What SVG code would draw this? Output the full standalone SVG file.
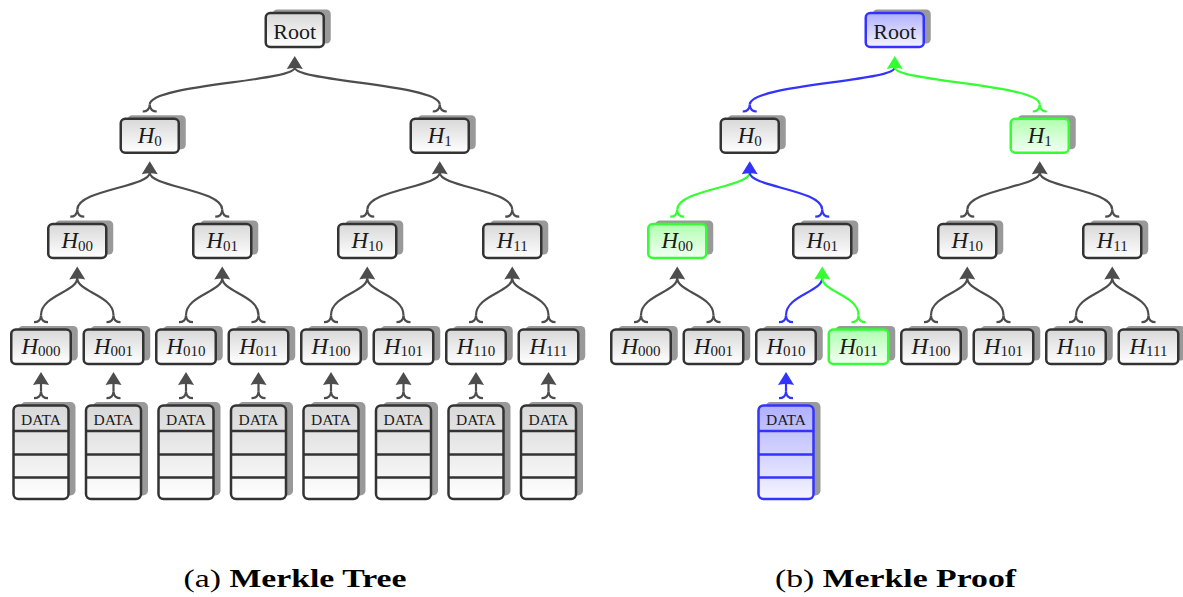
<svg xmlns="http://www.w3.org/2000/svg" xmlns:xlink="http://www.w3.org/1999/xlink" width="1183" height="597" viewBox="0 0 1183 597">
<defs>
<linearGradient id="gGray" x1="0" y1="0" x2="0" y2="1"><stop offset="0" stop-color="#d8d8d8"/><stop offset="1" stop-color="#ffffff"/></linearGradient>
<linearGradient id="gBlue" x1="0" y1="0" x2="0" y2="1"><stop offset="0" stop-color="#b0b0ff"/><stop offset="1" stop-color="#f4f4ff"/></linearGradient>
<linearGradient id="gGreen" x1="0" y1="0" x2="0" y2="1"><stop offset="0" stop-color="#b0ffb0"/><stop offset="1" stop-color="#f4fff4"/></linearGradient>
<path id="ah" d="M0,-0.5 L8,12.5 Q0,10.5 -8,12.5 Z"/>
<path id="tail" d="M-7,0 C-3,0 0,-2 0,-7 M7,0 C3,0 0,-2 0,-7" fill="none"/>
</defs>
<style>
.sh{fill:#999999;}
.bx{fill:url(#gGray);stroke:#333333;stroke-width:2.5;}
.bxB{fill:url(#gBlue);stroke:#3333ff;stroke-width:2.5;}
.bxG{fill:url(#gGreen);stroke:#33ff33;stroke-width:2.5;}
.dv{stroke:#333333;stroke-width:2.5;}
.dvB{stroke:#3333ff;stroke-width:2.5;}
.lbl{font-family:"Liberation Serif","Times New Roman",serif;font-size:23px;fill:#1a1a1a;text-anchor:middle;}
.it{font-style:italic;}
.sub{font-size:15px;}
.rt{font-family:"Liberation Serif","Times New Roman",serif;font-size:22px;fill:#1a1a1a;text-anchor:middle;}
.dt{font-family:"Liberation Serif","Times New Roman",serif;font-size:15.5px;fill:#1a1a1a;text-anchor:middle;}
.cap{font-family:"Liberation Serif","Times New Roman",serif;font-size:25px;fill:#000;text-anchor:middle;}
.k{fill:none;stroke:#4d4d4d;stroke-width:2.2;}
.kB{fill:none;stroke:#3333ff;stroke-width:2.2;}
.kG{fill:none;stroke:#33ff33;stroke-width:2.2;}
.aK{fill:#4d4d4d;}
.aB{fill:#3333ff;}
.aG{fill:#33ff33;}
</style>

<!-- ========== (a) Merkle Tree ========== -->
<g id="a-connectors">
<path class="k" d="M149.75,104.5 C149.75,84.5 294.75,81.5 294.75,67.5 M439.75,104.5 C439.75,84.5 294.75,81.5 294.75,67.5"/>
<path class="k" d="M77.25,209.7 C77.25,189.7 149.75,186.8 149.75,172.8 M222.25,209.7 C222.25,189.7 149.75,186.8 149.75,172.8"/>
<path class="k" d="M367.25,209.7 C367.25,189.7 439.75,186.8 439.75,172.8 M512.25,209.7 C512.25,189.7 439.75,186.8 439.75,172.8"/>
<path class="k" d="M41,315.2 C41,295.2 77.25,292 77.25,278 M113.5,315.2 C113.5,295.2 77.25,292 77.25,278"/>
<path class="k" d="M186,315.2 C186,295.2 222.25,292 222.25,278 M258.5,315.2 C258.5,295.2 222.25,292 222.25,278"/>
<path class="k" d="M331,315.2 C331,295.2 367.25,292 367.25,278 M403.5,315.2 C403.5,295.2 367.25,292 367.25,278"/>
<path class="k" d="M476,315.2 C476,295.2 512.25,292 512.25,278 M548.5,315.2 C548.5,295.2 512.25,292 512.25,278"/>
<path class="k" d="M41,391.2 V383.5 M113.5,391.2 V383.5 M186,391.2 V383.5 M258.5,391.2 V383.5 M331,391.2 V383.5 M403.5,391.2 V383.5 M476,391.2 V383.5 M548.5,391.2 V383.5"/>
<g class="k">
<use href="#tail" x="149.75" y="111.5"/><use href="#tail" x="439.75" y="111.5"/>
<use href="#tail" x="77.25" y="216.7"/><use href="#tail" x="222.25" y="216.7"/><use href="#tail" x="367.25" y="216.7"/><use href="#tail" x="512.25" y="216.7"/>
<use href="#tail" x="41" y="322.2"/><use href="#tail" x="113.5" y="322.2"/><use href="#tail" x="186" y="322.2"/><use href="#tail" x="258.5" y="322.2"/><use href="#tail" x="331" y="322.2"/><use href="#tail" x="403.5" y="322.2"/><use href="#tail" x="476" y="322.2"/><use href="#tail" x="548.5" y="322.2"/>
<use href="#tail" x="41" y="398.2"/><use href="#tail" x="113.5" y="398.2"/><use href="#tail" x="186" y="398.2"/><use href="#tail" x="258.5" y="398.2"/><use href="#tail" x="331" y="398.2"/><use href="#tail" x="403.5" y="398.2"/><use href="#tail" x="476" y="398.2"/><use href="#tail" x="548.5" y="398.2"/>
</g>
<g class="aK">
<use href="#ah" x="294.75" y="56.5"/>
<use href="#ah" x="149.75" y="161.8"/><use href="#ah" x="439.75" y="161.8"/>
<use href="#ah" x="77.25" y="267"/><use href="#ah" x="222.25" y="267"/><use href="#ah" x="367.25" y="267"/><use href="#ah" x="512.25" y="267"/>
<use href="#ah" x="41" y="372.5"/><use href="#ah" x="113.5" y="372.5"/><use href="#ah" x="186" y="372.5"/><use href="#ah" x="258.5" y="372.5"/><use href="#ah" x="331" y="372.5"/><use href="#ah" x="403.5" y="372.5"/><use href="#ah" x="476" y="372.5"/><use href="#ah" x="548.5" y="372.5"/>
</g>
</g>

<g id="a-root"><rect class="sh" x="272.75" y="9.5" width="58" height="34" rx="4.5"/><rect class="bx" x="265.75" y="13" width="58" height="34" rx="4.5"/><text class="rt" x="294.75" y="39.3">Root</text></g>
<g id="a-h0"><rect class="sh" x="127.75" y="115.2" width="58" height="34" rx="4.5"/><rect class="bx" x="120.75" y="118.7" width="58" height="34" rx="4.5"/><text class="lbl" x="149.75" y="143"><tspan class="it">H</tspan><tspan class="sub" dy="3">0</tspan></text></g>
<g id="a-h1"><rect class="sh" x="417.75" y="115.2" width="58" height="34" rx="4.5"/><rect class="bx" x="410.75" y="118.7" width="58" height="34" rx="4.5"/><text class="lbl" x="439.75" y="143"><tspan class="it">H</tspan><tspan class="sub" dy="3">1</tspan></text></g>
<g id="a-h00"><rect class="sh" x="55.25" y="220.5" width="58" height="34" rx="4.5"/><rect class="bx" x="48.25" y="224" width="58" height="34" rx="4.5"/><text class="lbl" x="77.25" y="248.2"><tspan class="it">H</tspan><tspan class="sub" dy="3">00</tspan></text></g>
<g id="a-h01"><rect class="sh" x="200.25" y="220.5" width="58" height="34" rx="4.5"/><rect class="bx" x="193.25" y="224" width="58" height="34" rx="4.5"/><text class="lbl" x="222.25" y="248.2"><tspan class="it">H</tspan><tspan class="sub" dy="3">01</tspan></text></g>
<g id="a-h10"><rect class="sh" x="345.25" y="220.5" width="58" height="34" rx="4.5"/><rect class="bx" x="338.25" y="224" width="58" height="34" rx="4.5"/><text class="lbl" x="367.25" y="248.2"><tspan class="it">H</tspan><tspan class="sub" dy="3">10</tspan></text></g>
<g id="a-h11"><rect class="sh" x="490.25" y="220.5" width="58" height="34" rx="4.5"/><rect class="bx" x="483.25" y="224" width="58" height="34" rx="4.5"/><text class="lbl" x="512.25" y="248.2"><tspan class="it">H</tspan><tspan class="sub" dy="3">11</tspan></text></g>
<g id="a-h000"><rect class="sh" x="18.25" y="326" width="59.5" height="34.5" rx="4.5"/><rect class="bx" x="11.25" y="329.5" width="59.5" height="34.5" rx="4.5"/><text class="lbl" x="41" y="353.6"><tspan class="it">H</tspan><tspan class="sub" dy="2.5">000</tspan></text></g>
<g id="a-h001"><rect class="sh" x="90.75" y="326" width="59.5" height="34.5" rx="4.5"/><rect class="bx" x="83.75" y="329.5" width="59.5" height="34.5" rx="4.5"/><text class="lbl" x="113.5" y="353.6"><tspan class="it">H</tspan><tspan class="sub" dy="2.5">001</tspan></text></g>
<g id="a-h010"><rect class="sh" x="163.25" y="326" width="59.5" height="34.5" rx="4.5"/><rect class="bx" x="156.25" y="329.5" width="59.5" height="34.5" rx="4.5"/><text class="lbl" x="186" y="353.6"><tspan class="it">H</tspan><tspan class="sub" dy="2.5">010</tspan></text></g>
<g id="a-h011"><rect class="sh" x="235.75" y="326" width="59.5" height="34.5" rx="4.5"/><rect class="bx" x="228.75" y="329.5" width="59.5" height="34.5" rx="4.5"/><text class="lbl" x="258.5" y="353.6"><tspan class="it">H</tspan><tspan class="sub" dy="2.5">011</tspan></text></g>
<g id="a-h100"><rect class="sh" x="308.25" y="326" width="59.5" height="34.5" rx="4.5"/><rect class="bx" x="301.25" y="329.5" width="59.5" height="34.5" rx="4.5"/><text class="lbl" x="331" y="353.6"><tspan class="it">H</tspan><tspan class="sub" dy="2.5">100</tspan></text></g>
<g id="a-h101"><rect class="sh" x="380.75" y="326" width="59.5" height="34.5" rx="4.5"/><rect class="bx" x="373.75" y="329.5" width="59.5" height="34.5" rx="4.5"/><text class="lbl" x="403.5" y="353.6"><tspan class="it">H</tspan><tspan class="sub" dy="2.5">101</tspan></text></g>
<g id="a-h110"><rect class="sh" x="453.25" y="326" width="59.5" height="34.5" rx="4.5"/><rect class="bx" x="446.25" y="329.5" width="59.5" height="34.5" rx="4.5"/><text class="lbl" x="476" y="353.6"><tspan class="it">H</tspan><tspan class="sub" dy="2.5">110</tspan></text></g>
<g id="a-h111"><rect class="sh" x="525.75" y="326" width="59.5" height="34.5" rx="4.5"/><rect class="bx" x="518.75" y="329.5" width="59.5" height="34.5" rx="4.5"/><text class="lbl" x="548.5" y="353.6"><tspan class="it">H</tspan><tspan class="sub" dy="2.5">111</tspan></text></g>

<g id="a-data000"><rect class="sh" x="20.5" y="402" width="55" height="93.5" rx="5"/><rect class="bx" x="13.5" y="405.5" width="55" height="93.5" rx="5"/><path class="dv" d="M13.5,431 H68.5 M13.5,454.5 H68.5 M13.5,477.5 H68.5"/><text class="dt" x="41" y="424.5">DATA</text></g>
<g id="a-data001"><rect class="sh" x="93" y="402" width="55" height="93.5" rx="5"/><rect class="bx" x="86" y="405.5" width="55" height="93.5" rx="5"/><path class="dv" d="M86,431 H141 M86,454.5 H141 M86,477.5 H141"/><text class="dt" x="113.5" y="424.5">DATA</text></g>
<g id="a-data010"><rect class="sh" x="165.5" y="402" width="55" height="93.5" rx="5"/><rect class="bx" x="158.5" y="405.5" width="55" height="93.5" rx="5"/><path class="dv" d="M158.5,431 H213.5 M158.5,454.5 H213.5 M158.5,477.5 H213.5"/><text class="dt" x="186" y="424.5">DATA</text></g>
<g id="a-data011"><rect class="sh" x="238" y="402" width="55" height="93.5" rx="5"/><rect class="bx" x="231" y="405.5" width="55" height="93.5" rx="5"/><path class="dv" d="M231,431 H286 M231,454.5 H286 M231,477.5 H286"/><text class="dt" x="258.5" y="424.5">DATA</text></g>
<g id="a-data100"><rect class="sh" x="310.5" y="402" width="55" height="93.5" rx="5"/><rect class="bx" x="303.5" y="405.5" width="55" height="93.5" rx="5"/><path class="dv" d="M303.5,431 H358.5 M303.5,454.5 H358.5 M303.5,477.5 H358.5"/><text class="dt" x="331" y="424.5">DATA</text></g>
<g id="a-data101"><rect class="sh" x="383" y="402" width="55" height="93.5" rx="5"/><rect class="bx" x="376" y="405.5" width="55" height="93.5" rx="5"/><path class="dv" d="M376,431 H431 M376,454.5 H431 M376,477.5 H431"/><text class="dt" x="403.5" y="424.5">DATA</text></g>
<g id="a-data110"><rect class="sh" x="455.5" y="402" width="55" height="93.5" rx="5"/><rect class="bx" x="448.5" y="405.5" width="55" height="93.5" rx="5"/><path class="dv" d="M448.5,431 H503.5 M448.5,454.5 H503.5 M448.5,477.5 H503.5"/><text class="dt" x="476" y="424.5">DATA</text></g>
<g id="a-data111"><rect class="sh" x="528" y="402" width="55" height="93.5" rx="5"/><rect class="bx" x="521" y="405.5" width="55" height="93.5" rx="5"/><path class="dv" d="M521,431 H576 M521,454.5 H576 M521,477.5 H576"/><text class="dt" x="548.5" y="424.5">DATA</text></g>

<!-- ========== (b) Merkle Proof ========== -->
<g id="b-connectors">
<path class="kB" d="M749.75,104.5 C749.75,84.5 894.75,81.5 894.75,67.5"/>
<path class="kG" d="M1039.75,104.5 C1039.75,84.5 894.75,81.5 894.75,67.5"/>
<path class="kG" d="M677.25,209.7 C677.25,189.7 749.75,186.8 749.75,172.8"/>
<path class="kB" d="M822.25,209.7 C822.25,189.7 749.75,186.8 749.75,172.8"/>
<path class="k" d="M967.25,209.7 C967.25,189.7 1039.75,186.8 1039.75,172.8 M1112.25,209.7 C1112.25,189.7 1039.75,186.8 1039.75,172.8"/>
<path class="k" d="M641,315.2 C641,295.2 677.25,292 677.25,278 M713.5,315.2 C713.5,295.2 677.25,292 677.25,278"/>
<path class="kB" d="M786,315.2 C786,295.2 822.25,292 822.25,278"/>
<path class="kG" d="M858.5,315.2 C858.5,295.2 822.25,292 822.25,278"/>
<path class="k" d="M931,315.2 C931,295.2 967.25,292 967.25,278 M1003.5,315.2 C1003.5,295.2 967.25,292 967.25,278"/>
<path class="k" d="M1076,315.2 C1076,295.2 1112.25,292 1112.25,278 M1148.5,315.2 C1148.5,295.2 1112.25,292 1112.25,278"/>
<path class="kB" d="M786,391.2 V383.5"/>
<g class="kB"><use href="#tail" x="749.75" y="111.5"/><use href="#tail" x="822.25" y="216.7"/><use href="#tail" x="786" y="322.2"/><use href="#tail" x="786" y="398.2"/></g>
<g class="kG"><use href="#tail" x="1039.75" y="111.5"/><use href="#tail" x="677.25" y="216.7"/><use href="#tail" x="858.5" y="322.2"/></g>
<g class="k"><use href="#tail" x="967.25" y="216.7"/><use href="#tail" x="1112.25" y="216.7"/><use href="#tail" x="641" y="322.2"/><use href="#tail" x="713.5" y="322.2"/><use href="#tail" x="931" y="322.2"/><use href="#tail" x="1003.5" y="322.2"/><use href="#tail" x="1076" y="322.2"/><use href="#tail" x="1148.5" y="322.2"/></g>
<use class="aG" href="#ah" x="894.75" y="56.5"/>
<use class="aB" href="#ah" x="749.75" y="161.8"/>
<use class="aK" href="#ah" x="1039.75" y="161.8"/>
<use class="aK" href="#ah" x="677.25" y="267"/>
<use class="aG" href="#ah" x="822.25" y="267"/>
<use class="aK" href="#ah" x="967.25" y="267"/>
<use class="aK" href="#ah" x="1112.25" y="267"/>
<use class="aB" href="#ah" x="786" y="372.5"/>
</g>

<g id="b-root"><rect class="sh" x="872.75" y="9.5" width="58" height="34" rx="4.5"/><rect class="bxB" x="865.75" y="13" width="58" height="34" rx="4.5"/><text class="rt" x="894.75" y="39.3">Root</text></g>
<g id="b-h0"><rect class="sh" x="727.75" y="115.2" width="58" height="34" rx="4.5"/><rect class="bx" x="720.75" y="118.7" width="58" height="34" rx="4.5"/><text class="lbl" x="749.75" y="143"><tspan class="it">H</tspan><tspan class="sub" dy="3">0</tspan></text></g>
<g id="b-h1"><rect class="sh" x="1017.75" y="115.2" width="58" height="34" rx="4.5"/><rect class="bxG" x="1010.75" y="118.7" width="58" height="34" rx="4.5"/><text class="lbl" x="1039.75" y="143"><tspan class="it">H</tspan><tspan class="sub" dy="3">1</tspan></text></g>
<g id="b-h00"><rect class="sh" x="655.25" y="220.5" width="58" height="34" rx="4.5"/><rect class="bxG" x="648.25" y="224" width="58" height="34" rx="4.5"/><text class="lbl" x="677.25" y="248.2"><tspan class="it">H</tspan><tspan class="sub" dy="3">00</tspan></text></g>
<g id="b-h01"><rect class="sh" x="800.25" y="220.5" width="58" height="34" rx="4.5"/><rect class="bx" x="793.25" y="224" width="58" height="34" rx="4.5"/><text class="lbl" x="822.25" y="248.2"><tspan class="it">H</tspan><tspan class="sub" dy="3">01</tspan></text></g>
<g id="b-h10"><rect class="sh" x="945.25" y="220.5" width="58" height="34" rx="4.5"/><rect class="bx" x="938.25" y="224" width="58" height="34" rx="4.5"/><text class="lbl" x="967.25" y="248.2"><tspan class="it">H</tspan><tspan class="sub" dy="3">10</tspan></text></g>
<g id="b-h11"><rect class="sh" x="1090.25" y="220.5" width="58" height="34" rx="4.5"/><rect class="bx" x="1083.25" y="224" width="58" height="34" rx="4.5"/><text class="lbl" x="1112.25" y="248.2"><tspan class="it">H</tspan><tspan class="sub" dy="3">11</tspan></text></g>
<g id="b-h000"><rect class="sh" x="618.25" y="326" width="59.5" height="34.5" rx="4.5"/><rect class="bx" x="611.25" y="329.5" width="59.5" height="34.5" rx="4.5"/><text class="lbl" x="641" y="353.6"><tspan class="it">H</tspan><tspan class="sub" dy="2.5">000</tspan></text></g>
<g id="b-h001"><rect class="sh" x="690.75" y="326" width="59.5" height="34.5" rx="4.5"/><rect class="bx" x="683.75" y="329.5" width="59.5" height="34.5" rx="4.5"/><text class="lbl" x="713.5" y="353.6"><tspan class="it">H</tspan><tspan class="sub" dy="2.5">001</tspan></text></g>
<g id="b-h010"><rect class="sh" x="763.25" y="326" width="59.5" height="34.5" rx="4.5"/><rect class="bx" x="756.25" y="329.5" width="59.5" height="34.5" rx="4.5"/><text class="lbl" x="786" y="353.6"><tspan class="it">H</tspan><tspan class="sub" dy="2.5">010</tspan></text></g>
<g id="b-h011"><rect class="sh" x="835.75" y="326" width="59.5" height="34.5" rx="4.5"/><rect class="bxG" x="828.75" y="329.5" width="59.5" height="34.5" rx="4.5"/><text class="lbl" x="858.5" y="353.6"><tspan class="it">H</tspan><tspan class="sub" dy="2.5">011</tspan></text></g>
<g id="b-h100"><rect class="sh" x="908.25" y="326" width="59.5" height="34.5" rx="4.5"/><rect class="bx" x="901.25" y="329.5" width="59.5" height="34.5" rx="4.5"/><text class="lbl" x="931" y="353.6"><tspan class="it">H</tspan><tspan class="sub" dy="2.5">100</tspan></text></g>
<g id="b-h101"><rect class="sh" x="980.75" y="326" width="59.5" height="34.5" rx="4.5"/><rect class="bx" x="973.75" y="329.5" width="59.5" height="34.5" rx="4.5"/><text class="lbl" x="1003.5" y="353.6"><tspan class="it">H</tspan><tspan class="sub" dy="2.5">101</tspan></text></g>
<g id="b-h110"><rect class="sh" x="1053.25" y="326" width="59.5" height="34.5" rx="4.5"/><rect class="bx" x="1046.25" y="329.5" width="59.5" height="34.5" rx="4.5"/><text class="lbl" x="1076" y="353.6"><tspan class="it">H</tspan><tspan class="sub" dy="2.5">110</tspan></text></g>
<g id="b-h111"><rect class="sh" x="1125.75" y="326" width="59.5" height="34.5" rx="4.5"/><rect class="bx" x="1118.75" y="329.5" width="59.5" height="34.5" rx="4.5"/><text class="lbl" x="1148.5" y="353.6"><tspan class="it">H</tspan><tspan class="sub" dy="2.5">111</tspan></text></g>
<g id="b-data010"><rect class="sh" x="765.5" y="402" width="55" height="93.5" rx="5"/><rect class="bxB" x="758.5" y="405.5" width="55" height="93.5" rx="5"/><path class="dvB" d="M758.5,431 H813.5 M758.5,454.5 H813.5 M758.5,477.5 H813.5"/><text class="dt" x="786" y="424.5">DATA</text></g>

<g id="captions">
<text class="cap" x="295" y="587" textLength="223" lengthAdjust="spacingAndGlyphs">(a) <tspan font-weight="bold">Merkle Tree</tspan></text>
<text class="cap" x="895.5" y="587" textLength="241" lengthAdjust="spacingAndGlyphs">(b) <tspan font-weight="bold">Merkle Proof</tspan></text>
</g>
</svg>
